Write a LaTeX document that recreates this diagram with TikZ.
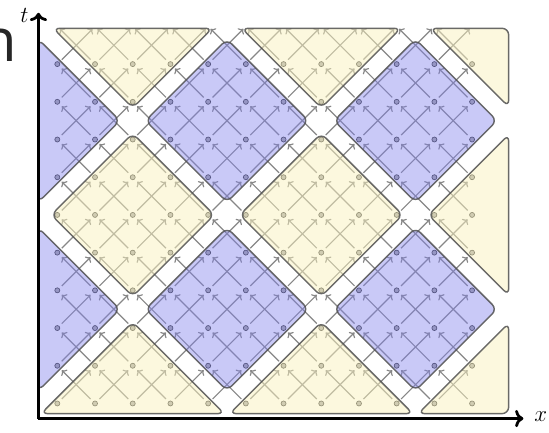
\documentclass[tikz,border=0pt]{standalone}
\usepackage{fontspec}
\newfontfamily\cutfont{Open Sans}
\usetikzlibrary{arrows.meta}
\definecolor{CellBlue}{RGB}{130,130,236}
\definecolor{CellYellow}{RGB}{250,242,190}
\definecolor{CellEdge}{RGB}{80,80,80}
\definecolor{LinkGray}{RGB}{135,135,135}

\begin{document}
\begin{tikzpicture}[x=1cm,y=1cm,
  site/.style={circle,draw=black!80,fill=black!35,line width=0.5pt,inner sep=0pt,minimum size=3.8pt},
  link/.style={draw=LinkGray,line width=0.9pt,-{To[length=3.2pt,width=6.4pt]},shorten >=2.6pt,shorten <=2.6pt},
  cell/.style={draw=CellEdge,draw opacity=0.85,line width=1.1pt,rounded corners=5pt},
  bluecell/.style={cell,fill=CellBlue,fill opacity=0.43},
  yellowcell/.style={cell,fill=CellYellow,fill opacity=0.5},
  axis/.style={line width=2.1pt,->},
  axlabel/.style={font=\fontsize{18}{18}\selectfont,inner sep=0pt}]
\useasboundingbox (-1.52,-5.78) rectangle (13.04,5.70);
\node[anchor=base east,inner sep=0pt,font=\cutfont\fontsize{45}{45}\selectfont,text=black!85] (cut) at (-1.06,4.06) {n};

\foreach \i in {0,...,11}
  \foreach \r in {0,...,9}
    \node[site] (s\i-\r) at (\i,\r-5) {};
\foreach \i in {0,...,12}
  \coordinate (top\i) at (\i,5);

\foreach \i in {0,...,11}
  \foreach \r in {0,...,8} {
    \pgfmathtruncatemacro\up{\r+1}
    \pgfmathtruncatemacro\lf{\i-1}
    \pgfmathtruncatemacro\rt{\i+1}
    \ifnum\i>0 \draw[link] (s\i-\r) -- (s\lf-\up); \fi
    \ifnum\i<11 \draw[link] (s\i-\r) -- (s\rt-\up); \fi
  }
\foreach \i in {0,...,11} {
  \pgfmathtruncatemacro\lf{\i-1}
  \pgfmathtruncatemacro\rt{\i+1}
  \ifnum\i>0 \draw[link] (s\i-9) -- (top\lf); \fi
  \ifnum\i<11 \draw[link] (s\i-9) -- (top\rt); \fi
}

\foreach \cx/\cy in {4.5/2.5,9.5/2.5,4.5/-2.5,9.5/-2.5}
  \draw[bluecell] ({\cx-2.16},\cy) -- (\cx,{\cy+2.16}) -- ({\cx+2.16},\cy) -- (\cx,{\cy-2.16}) -- cycle;
\foreach \cy in {2.5,-2.5}
  \draw[bluecell] (-0.5,{\cy+2.16}) -- (1.66,\cy) -- (-0.5,{\cy-2.16}) -- cycle;

\foreach \cx in {2,7} {
  \draw[yellowcell] ({\cx-2.16},0) -- (\cx,2.16) -- ({\cx+2.16},0) -- (\cx,-2.16) -- cycle;
  \draw[yellowcell] ({\cx-2.11},4.95) -- ({\cx+2.11},4.95) -- (\cx,2.84) -- cycle;
  \draw[yellowcell] (\cx,-2.84) -- ({\cx+2.43},-5.27) -- ({\cx-2.43},-5.27) -- cycle;
}
\draw[yellowcell] (11.97,2.13) -- (9.84,0) -- (11.97,-2.13) -- cycle;
\draw[yellowcell] (9.89,4.95) -- (11.97,4.95) -- (11.97,2.87) -- cycle;
\draw[yellowcell] (11.97,-2.87) -- (9.57,-5.27) -- (11.97,-5.27) -- cycle;

\coordinate (O) at (-0.5,-5.4);
\coordinate (xtip) at (12.36,-5.4);
\coordinate (ttip) at (-0.5,5.36);
\draw[axis] (O) -- (xtip);
\draw[axis] (O) -- (ttip);
\node[axlabel] (xlab) at (12.82,-5.36) {$x$};
\node[axlabel] (tlab) at (-0.87,5.3) {$t$};
\end{tikzpicture}
\end{document}
